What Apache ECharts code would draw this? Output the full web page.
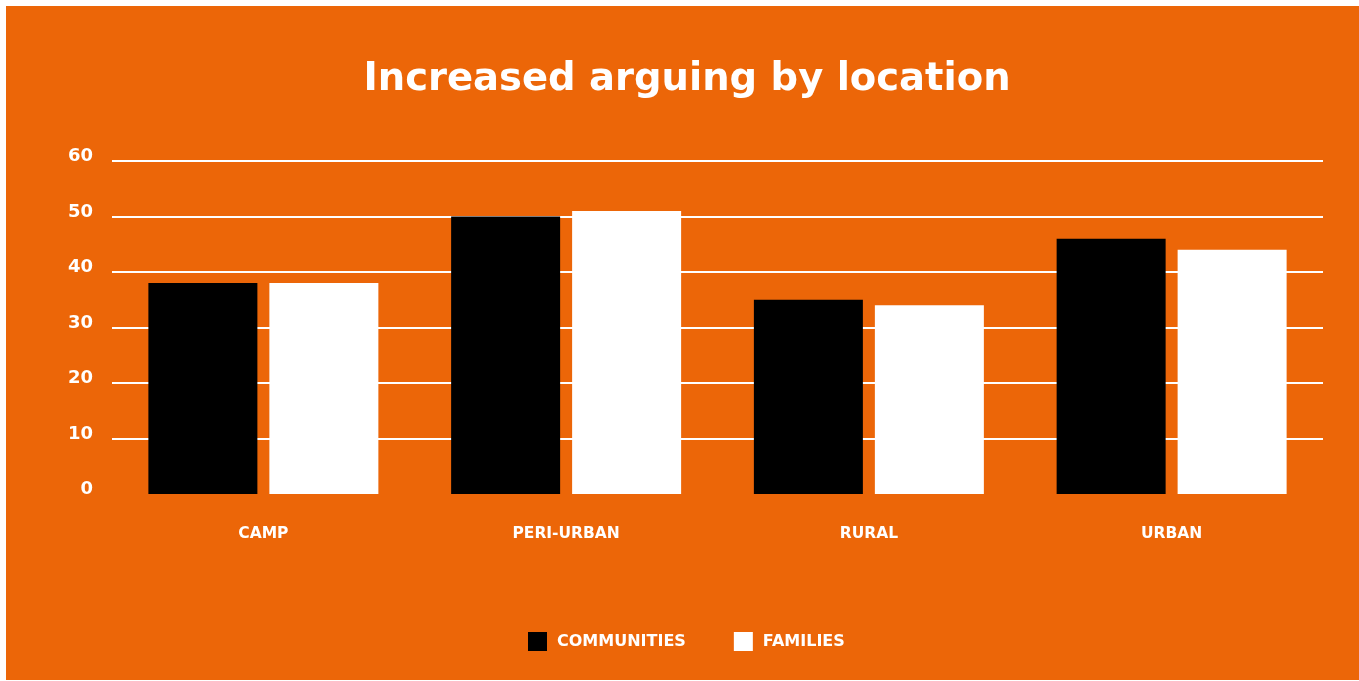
<!DOCTYPE html>
<html>
<head>
<meta charset="utf-8">
<script src="https://cdn.jsdelivr.net/npm/echarts@6/dist/echarts.min.js"></script>
<style>
html,body{margin:0;padding:0;background:#fff;}
#bg{position:absolute;left:6px;top:6px;width:1353px;height:674px;background:#EC6608;}
#chart{position:absolute;left:0;top:0;width:1359px;height:681px;}
</style>
</head>
<body>
<div id="bg"></div>
<div id="chart"></div>
<script>
const categories = ['CAMP', 'PERI-URBAN', 'RURAL', 'URBAN'];
const communities = [38, 50, 35, 46];
const families = [38, 51, 34, 44];
const seriesNames = ['COMMUNITIES', 'FAMILIES'];

const chart = echarts.init(document.getElementById('chart'));
const labelFont = '"DejaVu Sans", sans-serif';
chart.setOption({
  backgroundColor: 'transparent',
  animation: false,
  title: {
    text: 'Increased arguing by location',
    left: 687, top: 60, textAlign: 'center', padding: 0,
    textStyle: { color: '#fff', fontSize: 38.5, fontWeight: 'bold', fontFamily: '"DejaVu Sans", sans-serif' }
  },
  legend: {
    data: seriesNames,
    left: 528, top: 632, padding: 0,
    itemWidth: 19, itemHeight: 19, itemGap: 48,
    icon: 'rect',
    textStyle: { color: '#fff', fontSize: 16, fontWeight: 'bold', fontFamily: labelFont, padding: [0, 0, 0, 5] }
  },
  grid: { left: 112, right: 36, top: 161, bottom: 187 },
  xAxis: {
    type: 'category', data: categories,
    axisLine: { show: false }, axisTick: { show: false },
    axisLabel: { color: '#fff', fontSize: 15.5, fontWeight: 'bold', fontFamily: labelFont, margin: 32 }
  },
  yAxis: {
    type: 'value', min: 0, max: 60, interval: 10,
    axisLine: { show: false }, axisTick: { show: false },
    axisLabel: { color: '#fff', fontSize: 18, fontWeight: 'bold', fontFamily: labelFont, margin: 19, verticalAlign: 'bottom', lineHeight: 9 },
    splitLine: { showMinLine: false, lineStyle: { color: '#fff', width: 2 } }
  },
  series: [
    { name: seriesNames[0], type: 'bar', data: communities, barWidth: 109, barGap: '11%', itemStyle: { color: '#000' } },
    { name: seriesNames[1], type: 'bar', data: families, barWidth: 109, itemStyle: { color: '#fff' } }
  ]
});
</script>
</body>
</html>
